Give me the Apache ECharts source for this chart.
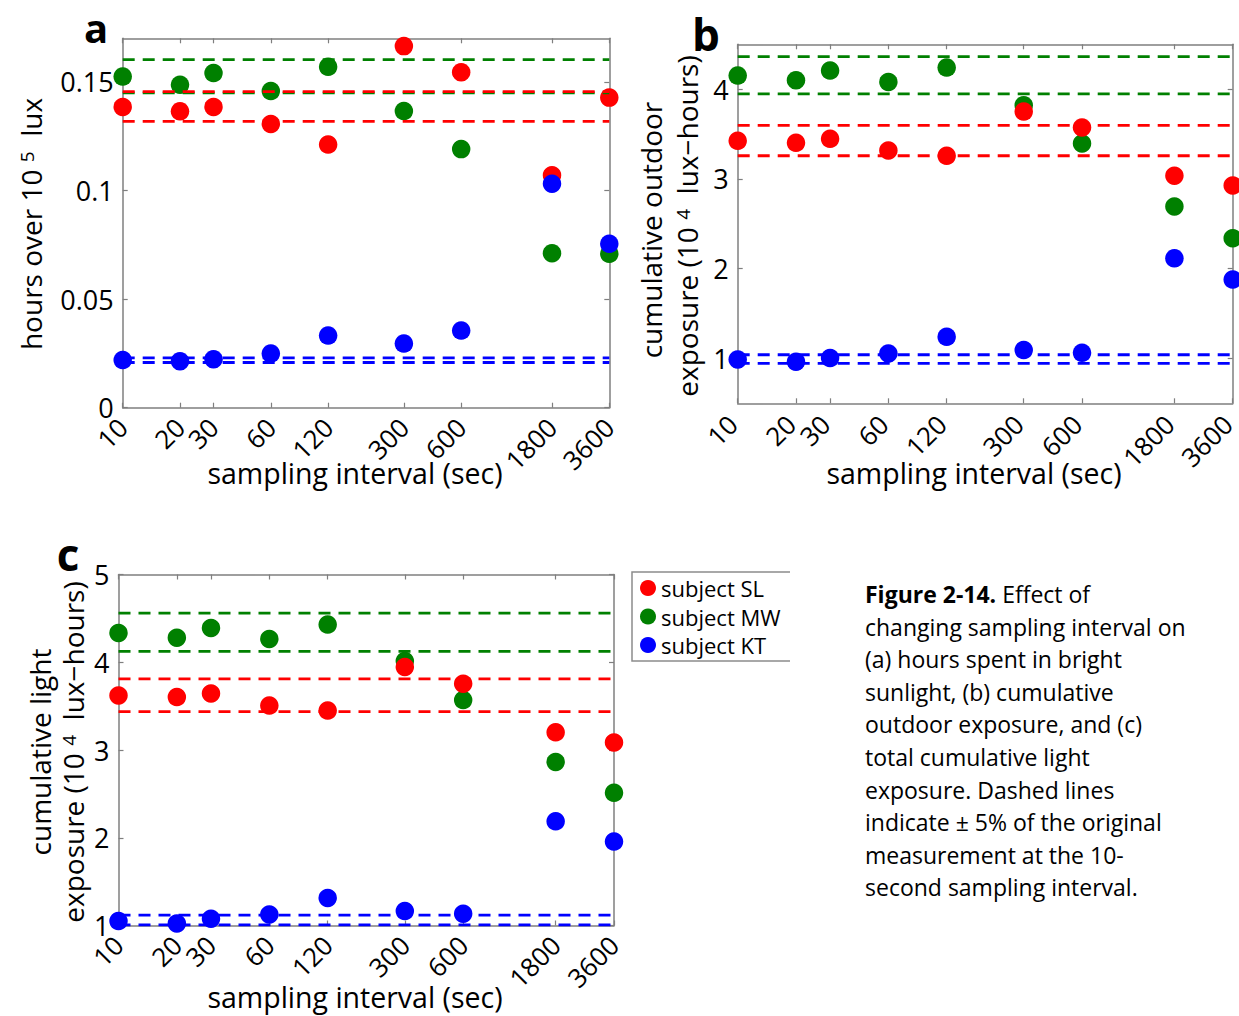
<!DOCTYPE html>
<html><head><meta charset="utf-8">
<script src="https://cdn.jsdelivr.net/npm/echarts@6/dist/echarts.min.js"></script>
<style>html,body{margin:0;padding:0;background:#fff}#chart{width:1239px;height:1016px}</style>
</head><body><div id="chart"></div>
<script>
// ---------- data ----------
const intervals = [10, 20, 30, 60, 120, 300, 600, 1800, 3600];
const xTickLabels = ['10', '20', '30', '60', '120', '300', '600', '1800', '3600'];
const seriesNames = ['subject SL', 'subject MW', 'subject KT'];

// panel a: hours over 10^5 lux
const aSL = [0.1384, 0.1364, 0.1384, 0.1306, 0.1211, 0.1664, 0.1544, 0.1070, 0.1427];
const aMW = [0.1524, 0.1486, 0.1540, 0.1457, 0.1569, 0.1365, 0.1190, 0.0711, 0.0708];
const aKT = [0.0219, 0.0214, 0.0223, 0.0249, 0.0332, 0.0295, 0.0355, 0.1031, 0.0754];
const aBandSL = [0.1318, 0.1455];
const aBandMW = [0.1449, 0.1602];
const aBandKT = [0.0208, 0.0229];
const aYTicks = [0, 0.05, 0.1, 0.15];
const aYTickLabels = ['0', '0.05', '0.1', '0.15'];

// panel b: cumulative outdoor exposure
const bSL = [3.425, 3.403, 3.447, 3.317, 3.258, 3.751, 3.573, 3.036, 2.928];
const bMW = [4.152, 4.100, 4.207, 4.081, 4.241, 3.822, 3.395, 2.694, 2.339];
const bKT = [0.989, 0.963, 1.004, 1.056, 1.241, 1.093, 1.063, 2.116, 1.879];
const bBandSL = [3.258, 3.596];
const bBandMW = [3.948, 4.363];
const bBandKT = [0.944, 1.041];
const bYTicks = [1, 2, 3, 4];
const bYTickLabels = ['1', '2', '3', '4'];

// panel c: total cumulative light exposure
const cSL = [3.622, 3.603, 3.645, 3.507, 3.450, 3.947, 3.756, 3.201, 3.086];
const cMW = [4.334, 4.280, 4.391, 4.265, 4.430, 4.013, 3.569, 2.864, 2.512];
const cKT = [1.050, 1.023, 1.077, 1.126, 1.314, 1.165, 1.134, 2.187, 1.957];
const cBandSL = [3.438, 3.810];
const cBandMW = [4.123, 4.560];
const cBandKT = [1.008, 1.119];
const cYTicks = [1, 2, 3, 4, 5];
const cYTickLabels = ['1', '2', '3', '4', '5'];

const captionLines = [
  '{b|Figure 2-14.} Effect of',
  'changing sampling interval on',
  '(a) hours spent in bright',
  'sunlight, (b) cumulative',
  'outdoor exposure, and (c)',
  'total cumulative light',
  'exposure. Dashed lines',
  'indicate \u00b1 5% of the original',
  'measurement at the 10-',
  'second sampling interval.'
];

// ---------- styling ----------
const RED = '#ff0000', GREEN = '#008000', BLUE = '#0000ff';
const AXIS = '#7f7f7f';
const FONT = '"Open Sans", sans-serif';

const panels = [
  { grid: { left: 122.7, top: 38.3, width: 486.6, height: 369.4 }, ymin: 0, ymax: 0.17,
    yticks: aYTicks, ylabels: aYTickLabels, sl: aSL, mw: aMW, kt: aKT, labelPad: 0,
    bands: [[aBandMW, GREEN], [aBandSL, RED], [aBandKT, BLUE]] },
  { grid: { left: 737.7, top: 44.3, width: 495, height: 359 }, ymin: 0.5, ymax: 4.5,
    yticks: bYTicks, ylabels: bYTickLabels, sl: bSL, mw: bMW, kt: bKT, labelPad: 7,
    bands: [[bBandMW, GREEN], [bBandSL, RED], [bBandKT, BLUE]] },
  { grid: { left: 118.5, top: 574.5, width: 495.5, height: 351 }, ymin: 1, ymax: 5,
    yticks: cYTicks, ylabels: cYTickLabels, sl: cSL, mw: cMW, kt: cKT, labelPad: 0,
    bands: [[cBandMW, GREEN], [cBandSL, RED], [cBandKT, BLUE]] }
];

const grids = [], xAxes = [], yAxes = [], series = [];
panels.forEach((p, i) => {
  grids.push(Object.assign({ show: false, containLabel: false, outerBoundsMode: 'none' }, p.grid));
  const xBase = {
    gridIndex: i, type: 'log', logBase: 10, min: 10, max: 3600,
    splitLine: { show: false }, minorTick: { show: false }, minorSplitLine: { show: false },
    axisLine: { show: true, onZero: false, lineStyle: { color: AXIS, width: 1.5 } },
    axisTick: { show: true, inside: true, length: 5, customValues: intervals, lineStyle: { color: AXIS, width: 1.2 } }
  };
  xAxes.push(Object.assign({}, xBase, {
    position: 'bottom',
    axisLabel: {
      show: true, rotate: 45, margin: 15 - p.labelPad * 0.5, customValues: intervals, color: '#000',
      fontSize: 26, lineHeight: 22, fontFamily: FONT, padding: [0, p.labelPad, 0, 0],
      formatter: v => { const k = intervals.findIndex(t => Math.abs(t - v) / t < 1e-6); return k >= 0 ? xTickLabels[k] : ''; }
    }
  }));
  xAxes.push(Object.assign({}, xBase, { position: 'top', axisLabel: { show: false } }));
  const yBase = {
    gridIndex: i, type: 'value', min: p.ymin, max: p.ymax,
    splitLine: { show: false },
    axisLine: { show: true, onZero: false, lineStyle: { color: AXIS, width: 1.5 } },
    axisTick: { show: true, inside: true, length: 5, customValues: p.yticks, lineStyle: { color: AXIS, width: 1.2 } }
  };
  yAxes.push(Object.assign({}, yBase, {
    position: 'left',
    axisLabel: {
      show: true, margin: 9, customValues: p.yticks, color: '#000', fontSize: 27, fontFamily: FONT,
      formatter: v => { const k = p.yticks.findIndex(t => Math.abs(t - v) < 1e-9); return k >= 0 ? p.ylabels[k] : ''; }
    }
  }));
  yAxes.push(Object.assign({}, yBase, { position: 'right', axisLabel: { show: false } }));

  const xi = i * 2, yi = i * 2;
  const pts = arr => intervals.map((x, j) => [x, arr[j]]);
  // draw order: MW, SL, KT (KT on top)
  [[seriesNames[1], p.mw, GREEN], [seriesNames[0], p.sl, RED], [seriesNames[2], p.kt, BLUE]].forEach(([name, arr, col]) => {
    series.push({
      type: 'scatter', name, xAxisIndex: xi, yAxisIndex: yi, data: pts(arr),
      symbol: 'circle', symbolSize: 18.5, clip: false,
      itemStyle: { color: col, opacity: 1 }, emphasis: { disabled: true }, silent: true, z: 2
    });
  });
  p.bands.forEach(([vals, col]) => {
    vals.forEach(v => {
      series.push({
        type: 'line', xAxisIndex: xi, yAxisIndex: yi, data: [[intervals[0], v], [intervals[intervals.length - 1], v]],
        symbol: 'none', silent: true, z: 3,
        lineStyle: { color: col, width: 2.8, type: [12, 8] }
      });
    });
  });
});

const supRich = {
  n: { fontSize: 28, fontFamily: FONT, color: '#000' },
  s: { fontSize: 19, fontFamily: FONT, color: '#000', verticalAlign: 'top' }
};

function vText(x, y, text) {
  return {
    type: 'text', x, y, rotation: Math.PI / 2, silent: true,
    style: { text, rich: supRich, align: 'center', verticalAlign: 'middle', fill: '#000', fontSize: 28, fontFamily: FONT }
  };
}
function hText(x, y, text, size, weight) {
  return {
    type: 'text', x, y, silent: true,
    style: { text, align: 'center', verticalAlign: 'middle', fill: '#000', fontSize: size, lineHeight: size,
      fontFamily: FONT, fontWeight: weight || 'normal' }
  };
}

const graphics = [
  hText(96, 27, 'a', 40, 'bold'),
  hText(706, 34, 'b', 44, 'bold'),
  hText(68, 554, 'c', 44, 'bold'),
  hText(355, 473, 'sampling interval (sec)', 28.5),
  hText(974, 473, 'sampling interval (sec)', 28.5),
  hText(355, 997, 'sampling interval (sec)', 28.5),
  vText(31, 224, '{n|hours over 10 }{s|5}{n|  lux}'),
  vText(651, 230, '{n|cumulative outdoor}'),
  vText(687, 226, '{n|exposure (10 }{s|4}{n|  lux\u2212hours)}'),
  vText(40, 752, '{n|cumulative light}'),
  vText(73, 752, '{n|exposure (10 }{s|4}{n|  lux\u2212hours)}'),
  // legend frame (right side cut off as in the reference)
  { type: 'polyline', silent: true, shape: { points: [[790, 572], [632, 572], [632, 661], [790, 661]] },
    style: { stroke: '#8c8c8c', lineWidth: 1.5, fill: null } }
];
captionLines.forEach((t, i) => {
  graphics.push({
    type: 'text', x: 865, y: 594 + i * 32.6, silent: true,
    style: { text: t, align: 'left', verticalAlign: 'middle', fill: '#000', fontSize: 23, fontFamily: FONT,
      rich: { b: { fontWeight: 'bold', fontSize: 23, fontFamily: FONT, fill: '#000' } } }
  });
});

const chart = echarts.init(document.getElementById('chart'), null, { renderer: 'svg', width: 1239, height: 1016 });
chart.setOption({
  backgroundColor: '#fff',
  animation: false,
  grid: grids, xAxis: xAxes, yAxis: yAxes, series,
  legend: {
    data: seriesNames, orient: 'vertical', left: 640, top: 577, padding: 0,
    itemWidth: 16, itemHeight: 16, itemGap: 6.5, icon: 'circle', selectedMode: false,
    textStyle: { fontSize: 22, fontFamily: FONT, color: '#000', lineHeight: 22 }
  },
  graphic: graphics
});
</script></body></html>
